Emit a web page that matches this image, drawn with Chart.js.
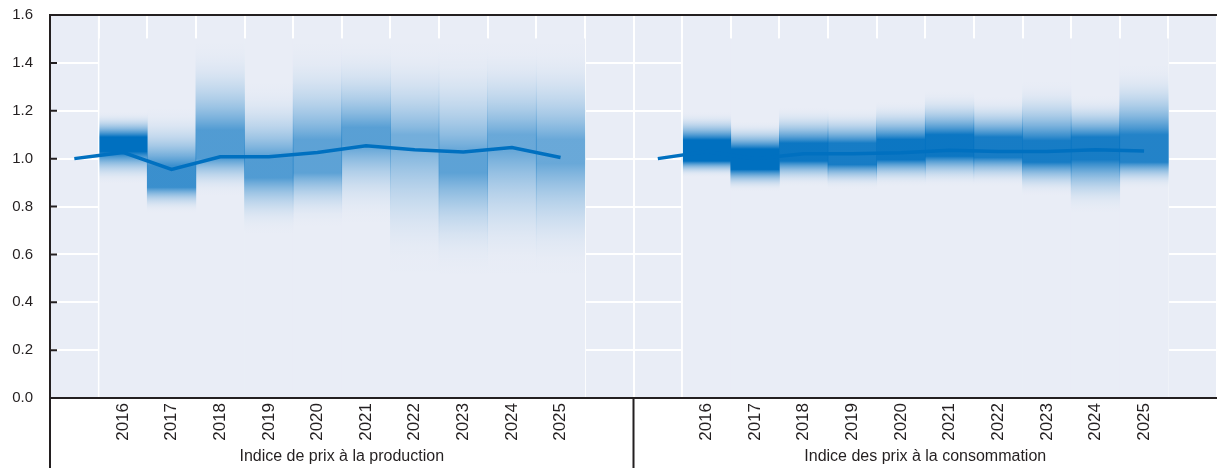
<!DOCTYPE html>
<html>
<head>
<meta charset="utf-8">
<script src="https://cdn.jsdelivr.net/npm/chart.js@4.4.1/dist/chart.umd.min.js"></script>
<style>
  html, body { margin: 0; padding: 0; background: #fff; }
  #wrap { width: 1217px; height: 468px; }
</style>
</head>
<body>
<div id="wrap"><canvas id="chart" width="1217" height="468"></canvas></div>
<script>
// Years of each panel (first and last slot of a panel stay empty)
const years = ["2016", "2017", "2018", "2019", "2020", "2021", "2022", "2023", "2024", "2025"];
const panelTitles = ["Indice de prix à la production", "Indice des prix à la consommation"];
const yTicks = [0, 0.2, 0.4, 0.6, 0.8, 1.0, 1.2, 1.4, 1.6];

// Central path, base year first (= 1)
const ppiLine = [1.0, 1.026, 0.955, 1.008, 1.008, 1.026, 1.054, 1.037, 1.028, 1.046, 1.005];
const cpiLine = [1.0, 1.03, 1.0, 1.02, 1.02, 1.025, 1.035, 1.03, 1.03, 1.037, 1.032];

// Fan per year: outer range, densest range and shade strength
const ppiLow = [0.89, 0.77, 0.84, 0.68, 0.71, 0.72, 0.50, 0.50, 0.50, 0.50];
const ppiCoreLow = [1.03, 0.88, 1.00, 0.92, 0.94, 1.06, 1.05, 0.94, 1.03, 0.98];
const ppiCoreHigh = [1.09, 0.97, 1.12, 1.00, 1.08, 1.13, 1.10, 1.02, 1.10, 1.08];
const ppiHigh = [1.20, 1.22, 1.50, 1.33, 1.50, 1.50, 1.50, 1.50, 1.50, 1.50];
const ppiShade = [1.0, 0.75, 0.65, 0.65, 0.6, 0.62, 0.5, 0.6, 0.55, 0.55];

const cpiLow = [0.92, 0.86, 0.88, 0.87, 0.88, 0.88, 0.88, 0.84, 0.765, 0.87];
const cpiCoreLow = [0.99, 0.955, 0.99, 0.975, 0.995, 1.01, 1.005, 0.985, 0.995, 0.985];
const cpiCoreHigh = [1.078, 1.04, 1.065, 1.065, 1.08, 1.1, 1.09, 1.075, 1.09, 1.1];
const cpiHigh = [1.20, 1.16, 1.22, 1.215, 1.245, 1.29, 1.265, 1.33, 1.27, 1.40];
const cpiShade = [1.0, 1.0, 0.95, 0.9, 0.95, 0.95, 0.9, 0.9, 0.9, 0.85];

// Shaded range behind every forecast year
const columnTop = 1.5;

const fans = [
  { low: ppiLow, coreLow: ppiCoreLow, coreHigh: ppiCoreHigh, high: ppiHigh, shade: ppiShade },
  { low: cpiLow, coreLow: cpiCoreLow, coreHigh: cpiCoreHigh, high: cpiHigh, shade: cpiShade },
];

const PLOT_BG = "#e9edf6";
const INK = "#231f20";
const FONT = '"Liberation Sans", Arial, sans-serif';
const SLOTS = years.length + 2;

const labels = [];
for (let p = 0; p < 2; p++) labels.push("", ...years, "");

// one entry per slot, null where a panel has no forecast year
function bySlot(pick) {
  const out = [];
  for (let p = 0; p < 2; p++) {
    out.push(null);
    years.forEach((_, j) => out.push(pick(p, j)));
    out.push(null);
  }
  return out;
}

const lineData = [...ppiLine, null, ...cpiLine, null];
const columnData = bySlot(() => [0, columnTop]);
const fanData = bySlot((p, j) => [fans[p].low[j], fans[p].high[j]]);

function fanFill(ctx) {
  const chart = ctx.chart;
  if (!chart.chartArea) return "rgba(0,0,0,0)";
  const p = Math.floor(ctx.dataIndex / SLOTS);
  const j = (ctx.dataIndex % SLOTS) - 1;
  if (j < 0 || j >= years.length) return "rgba(0,0,0,0)";
  const f = fans[p];
  const lo = f.low[j], cLo = f.coreLow[j], cHi = f.coreHigh[j], hi = f.high[j], s = f.shade[j];
  const y = chart.scales.y;
  const g = chart.ctx.createLinearGradient(0, y.getPixelForValue(hi), 0, y.getPixelForValue(lo));
  const span = hi - lo;
  const stop = (v, a) => g.addColorStop(Math.min(1, Math.max(0, (hi - v) / span)), `rgba(0,112,192,${a.toFixed(3)})`);
  const steps = 12;
  for (let n = 0; n <= steps; n++) {
    const t = n / steps;
    stop(hi - (hi - cHi) * t, s * Math.pow(t, 2.3));
  }
  for (let n = steps; n >= 0; n--) {
    const t = n / steps;
    stop(lo + (cLo - lo) * t, s * Math.pow(t, 2.3));
  }
  return g;
}

const framePlugin = {
  id: "frame",
  beforeDraw(chart) {
    const { ctx, chartArea: a } = chart;
    ctx.save();
    ctx.fillStyle = PLOT_BG;
    ctx.fillRect(a.left, a.top, a.right - a.left, a.bottom - a.top);
    ctx.restore();
  },
  beforeDatasetDraw(chart, args) {
    if (args.meta.type !== "line") return;
    // white edge between base year and first forecast year
    const { ctx, chartArea: a, scales } = chart;
    ctx.save();
    ctx.strokeStyle = "#ffffff";
    ctx.lineWidth = 1.5;
    [0.5, SLOTS + 0.5].forEach(v => {
      const x = scales.x.getPixelForValue(v);
      ctx.beginPath();
      ctx.moveTo(x, a.top);
      ctx.lineTo(x, a.bottom);
      ctx.stroke();
    });
    ctx.restore();
  },
  afterDraw(chart) {
    const { ctx, chartArea: a, scales, height } = chart;
    ctx.save();
    ctx.strokeStyle = INK;
    ctx.lineWidth = 2;
    ctx.beginPath();
    ctx.moveTo(a.left, a.top); ctx.lineTo(a.right, a.top);
    ctx.moveTo(a.left, a.bottom); ctx.lineTo(a.right, a.bottom);
    ctx.moveTo(a.left, a.top - 1); ctx.lineTo(a.left, height);
    const mid = scales.x.getPixelForValue(SLOTS - 0.5);
    ctx.moveTo(mid, a.bottom); ctx.lineTo(mid, height);
    // inner ticks on the value axis
    yTicks.forEach(v => {
      const y = scales.y.getPixelForValue(v);
      ctx.moveTo(a.left, y); ctx.lineTo(a.left + 7, y);
    });
    ctx.stroke();

    ctx.fillStyle = INK;
    ctx.font = "16px " + FONT;
    ctx.textAlign = "center";
    ctx.textBaseline = "middle";
    panelTitles.forEach((t, p) => {
      const x0 = scales.x.getPixelForValue(p * SLOTS - 0.5);
      const x1 = scales.x.getPixelForValue((p + 1) * SLOTS - 0.5);
      ctx.fillText(t, (x0 + x1) / 2, 457);
    });
    ctx.restore();
  },
};

new Chart(document.getElementById("chart"), {
  type: "bar",
  data: {
    labels,
    datasets: [
      {
        type: "line",
        data: lineData,
        borderColor: "#0070c0",
        borderWidth: 3.5,
        pointRadius: 0,
        tension: 0,
        spanGaps: false,
        order: 0,
      },
      {
        data: fanData,
        backgroundColor: fanFill,
        borderWidth: 0,
        barPercentage: 1,
        categoryPercentage: 1,
        grouped: false,
        order: 1,
      },
      {
        data: columnData,
        backgroundColor: PLOT_BG,
        borderWidth: 0,
        barPercentage: 1,
        categoryPercentage: 1,
        grouped: false,
        order: 2,
      },
    ],
  },
  options: {
    responsive: false,
    animation: false,
    devicePixelRatio: 1,
    layout: { padding: { top: 15, right: 0, bottom: 0, left: 0 } },
    plugins: {
      legend: { display: false },
      tooltip: { enabled: false },
    },
    scales: {
      x: {
        offset: true,
        grid: { color: "#ffffff", lineWidth: 2, drawTicks: false, offset: true },
        border: { display: false },
        ticks: {
          autoSkip: false,
          minRotation: 90,
          maxRotation: 90,
          padding: 5,
          color: INK,
          font: { family: FONT, size: 17 },
        },
        afterFit(scale) {
          scale.height = 70;
          scale.paddingLeft = 0;
          scale.paddingRight = 0;
        },
      },
      y: {
        min: 0,
        max: 1.6,
        afterBuildTicks(scale) { scale.ticks = yTicks.map(v => ({ value: v })); },
        grid: { color: "#ffffff", lineWidth: 2, drawTicks: false },
        border: { display: false },
        ticks: {
          padding: 17,
          color: INK,
          font: { family: FONT, size: 15 },
          callback: v => v.toFixed(1),
        },
        afterFit(scale) {
          scale.width = 50;
          scale.paddingTop = 0;
          scale.paddingBottom = 0;
        },
      },
    },
  },
  plugins: [framePlugin],
});
</script>
</body>
</html>
